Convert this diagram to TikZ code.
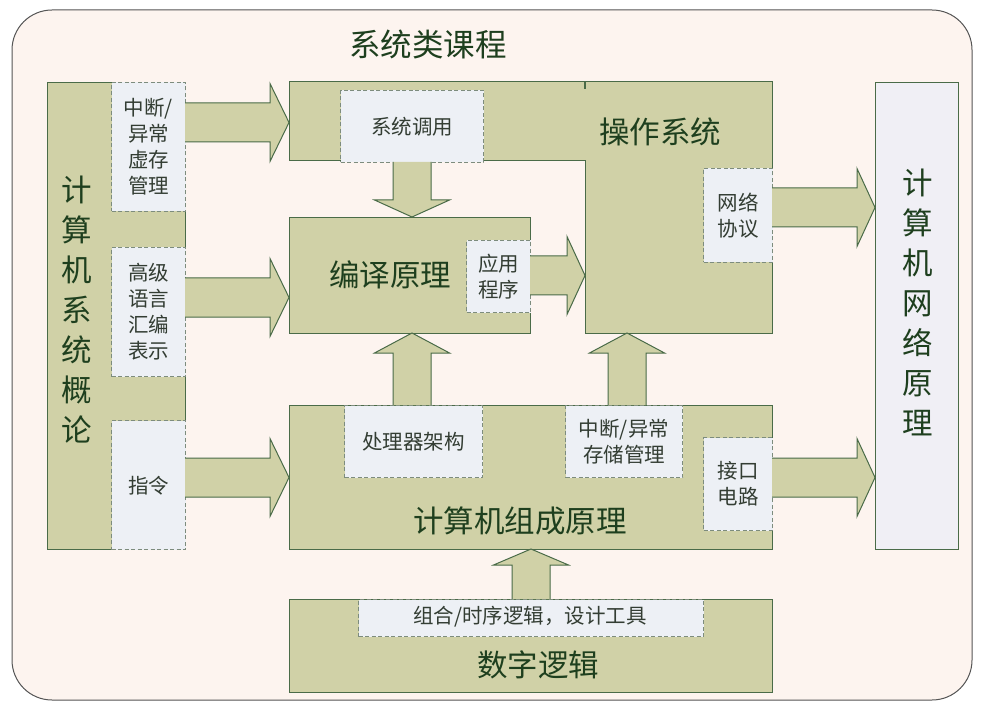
\documentclass[tikz,border=0pt]{standalone}
\usepackage{fontspec}
\newfontfamily\cjk{Noto Sans CJK SC}
\definecolor{bg}{HTML}{FDF4EF}
\definecolor{olive}{HTML}{D0D1A7}
\definecolor{bord}{HTML}{4A6B48}
\definecolor{dfill}{HTML}{EDF0F5}
\definecolor{dbord}{HTML}{7D8C7D}
\definecolor{rfill}{HTML}{F0EFF5}
\definecolor{tdark}{HTML}{1E3F1E}
\definecolor{tsmall}{HTML}{333D33}
\definecolor{outer}{HTML}{555555}
\newcommand\rarr[4]{\draw[blk] (#1,#4-19.5) -- (#2,#4-19.5) -- (#2,#4-39) -- (#3,#4) -- (#2,#4+39) -- (#2,#4+19.5) -- (#1,#4+19.5);}
\newcommand\uarr[4]{\draw[blk] (#1-19,#2) -- (#1-19,#3) -- (#1-37.5,#3) -- (#1,#4) -- (#1+37.5,#3) -- (#1+19,#3) -- (#1+19,#2);}
\begin{document}
\begin{tikzpicture}[x=1pt,y=-1pt,
  olivebox/.style={draw=bord, fill=olive, line width=1pt, inner sep=0pt, anchor=north west},
  rbox/.style={draw=bord, fill=rfill, line width=1pt, inner sep=0pt, anchor=north west},
  dbox/.style={draw=dbord, fill=dfill, dash pattern=on 4pt off 2.5pt, line width=1pt, inner sep=0pt, anchor=north west},
  blk/.style={draw=bord, fill=olive, line width=1pt, line join=miter},
  big/.style={font=\cjk\fontsize{30.5}{40}\selectfont, text=tdark, align=center, inner sep=0pt},
  small/.style={font=\cjk\fontsize{20.5}{26}\selectfont, text=tsmall, align=center, inner sep=0pt}]
\useasboundingbox (0,0) rectangle (984,708);
\draw[fill=bg, draw=outer, line width=1pt, rounded corners=40pt] (12,10) rectangle (972,700);
\node[big, font=\cjk\fontsize{31.5}{31.5}\selectfont] (title) at (428,44) {系统类课程};

% left box
\node[olivebox, minimum width=138pt, minimum height=467pt] (intro) at (47,82) {};
\node[big] (introt) at (77,310) {计\\算\\机\\系\\统\\概\\论};
\node[dbox, minimum width=74pt, minimum height=129pt] (d1) at (111,82) {};
\node[small] at (d1.center) {中断/\\异常\\虚存\\管理};
\node[dbox, minimum width=74pt, minimum height=129pt] (d2) at (111,247) {};
\node[small] at (d2.center) {高级\\语言\\汇编\\表示};
\node[dbox, minimum width=74pt, minimum height=129pt] (d3) at (111,420) {};
\node[small] at ([yshift=-0.5pt]d3.center) {指令};

% right box
\node[rbox, minimum width=83pt, minimum height=467pt] (net) at (875,82) {};
\node[big] (nett) at (918,302) {计\\算\\机\\网\\络\\原\\理};

% OS L-shape
\draw[blk] (289,82) -- (772,82) -- (772,333) -- (585,333) -- (585,161) -- (289,161) -- cycle;
\draw[bord, line width=1.2pt] (585,82) -- (585,89);
\node[big] (os) at (660,132) {操作系统};
\node[dbox, minimum width=143pt, minimum height=72pt] (sc) at (340,90) {};
\node[small] at (sc.center) {系统调用};
\node[dbox, minimum width=69pt, minimum height=94pt] (np) at (703,168) {};
\node[small] at (np.center) {网络\\协议};

% compiler
\node[olivebox, minimum width=241pt, minimum height=116pt] (comp) at (289,217) {};
\node[big] (compt) at (390,275) {编译原理};
\node[dbox, minimum width=64pt, minimum height=72pt] (app) at (466,240) {};
\node[small] at (app.center) {应用\\程序};

% organization
\node[olivebox, minimum width=483pt, minimum height=144pt] (org) at (289,405) {};
\node[big] (orgt) at (520,521) {计算机组成原理};
\node[dbox, minimum width=138pt, minimum height=72pt] (cpu) at (344,405) {};
\node[small] at (cpu.center) {处理器架构};
\node[dbox, minimum width=117pt, minimum height=72pt] (irq) at (565,405) {};
\node[small] at (irq.center) {中断/异常\\存储管理};
\node[dbox, minimum width=69pt, minimum height=93pt] (io) at (703,437) {};
\node[small] at (io.center) {接口\\电路};

% digital logic
\node[olivebox, minimum width=483pt, minimum height=93pt] (dl) at (289,599) {};
\node[big] (dlt) at (538,665) {数字逻辑};
\node[dbox, minimum width=345pt, minimum height=37pt] (tool) at (358,599) {};
\node[small] at (530,617) {组合/时序逻辑，设计工具};

% arrows
\rarr{185}{270}{289}{122.5}
\rarr{185}{270}{289}{297.5}
\rarr{185}{270}{289}{477.5}
\rarr{530}{567}{585}{275.5}
\rarr{772}{857}{875}{207.5}
\rarr{772}{857}{875}{477.5}
\uarr{412}{162}{200}{217}
\uarr{412}{405}{353}{333}
\uarr{627}{405}{353}{333}
\uarr{531}{599}{565}{549}
\end{tikzpicture}
\end{document}
